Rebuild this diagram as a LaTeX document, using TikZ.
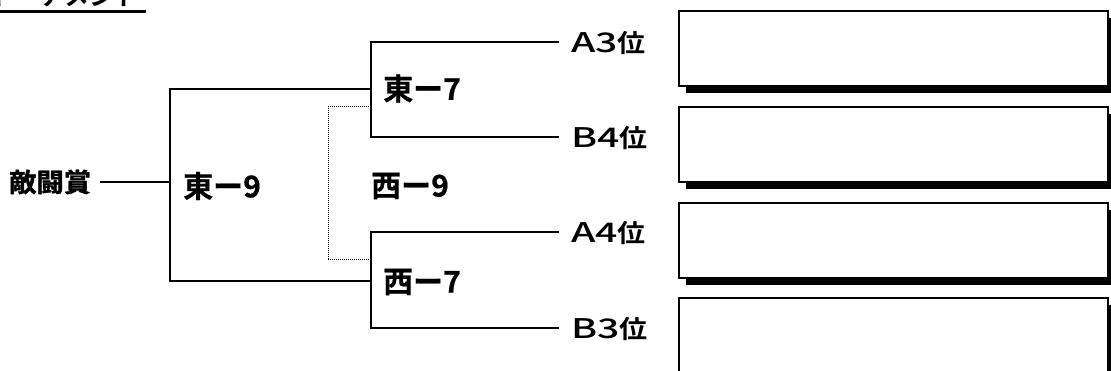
\documentclass[tikz,border=0pt]{standalone}
\usepackage{fontspec}
\newfontfamily\jpA{Noto Sans CJK JP Bold}[FakeBold=0.6]
\newfontfamily\jpT{Noto Sans CJK JP Bold}
\newfontfamily\jpW{Noto Sans CJK JP Bold}[FakeStretch=1.12]
\newfontfamily\latW{Noto Sans CJK JP Medium}[FakeStretch=1.45]
\newfontfamily\jpR{Noto Sans CJK JP Bold}[FakeStretch=1.05,FakeBold=1.5]
\newcommand{\teamtxt}[1]{{\latW\fontsize{27}{27}\selectfont #1}{\jpW\fontsize{25}{25}\selectfont 位}}
\begin{document}
\begin{tikzpicture}[x=1pt,y=-1pt,
  brk/.style={line width=2pt,line cap=rect},
  dot/.style={line width=1pt,densely dotted},
  team/.style={anchor=west,inner sep=0pt},
  lab/.style={anchor=west,inner sep=0pt,font=\jpA\fontsize{30}{30}\selectfont},
  rootlab/.style={anchor=west,inner sep=0pt,font=\jpR\fontsize{26}{26}\selectfont},
  box/.style={draw,line width=2pt,fill=white},
  shadow/.style={fill=black}]
\useasboundingbox (0,0) rectangle (1111,371);
\clip (0,0) rectangle (1111,371);
% title (cut off at top)
\begin{scope}
\clip (0,0) rectangle (200,9);
\node[anchor=base east,inner sep=0pt,font=\jpT\fontsize{25}{25}\selectfont] (title) at (140,6) {トーナメント};
\end{scope}
\coordinate (ul1) at (0,11.5);
\coordinate (ul2) at (146,11.5);
\draw[line width=3pt] (ul1) -- (ul2);

% root
\node[rootlab] (root) at (9,182) {敵闘賞};
\coordinate (j0) at (170,182);
\coordinate (j0t) at (170,89);
\coordinate (j0b) at (170,281);
\draw[brk] ([xshift=10pt]root.east) -- (j0);
\draw[brk] (j0t) -- (j0b);
\node[lab] (e9) at (183,186) {東ー9};
\node[lab] (w9) at (371,186) {西ー9};

% east-7 bracket
\coordinate (e7) at (371,89);
\coordinate (e7t) at (371,42);
\coordinate (e7b) at (371,137);
\draw[brk] (j0t) -- (e7);
\draw[brk] (e7t) -- (e7b);
\node[lab] (e7l) at (383,88.5) {東ー7};

% west-7 bracket
\coordinate (w7) at (371,281);
\coordinate (w7t) at (371,232);
\coordinate (w7b) at (371,328);
\draw[brk] (j0b) -- (w7);
\draw[brk] (w7t) -- (w7b);
\node[lab] (w7l) at (383,282) {西ー7};

% dotted bracket
\coordinate (dt) at (328,107);
\coordinate (db) at (328,260);
\coordinate (dte) at (371,107);
\coordinate (dbe) at (371,260);
\draw[dot] (dte) -- (dt) -- (db) -- (dbe);

% teams
\node[team] (a3) at (571,43) {\teamtxt{A3}};
\node[team] (b4) at (571,138) {\teamtxt{B4}};
\node[team] (a4) at (571,233) {\teamtxt{A4}};
\node[team] (b3) at (571,329) {\teamtxt{B3}};
\draw[brk] (e7t) -- ([xshift=-13pt]a3.west |- e7t);
\draw[brk] (e7b) -- ([xshift=-13pt]b4.west |- e7b);
\draw[brk] (w7t) -- ([xshift=-13pt]a4.west |- w7t);
\draw[brk] (w7b) -- ([xshift=-13pt]b3.west |- w7b);

% answer boxes
\foreach \t/\n in {10/bx1,106/bx2,202/bx3,297/bx4}{
  \fill[shadow] (686,\t+8) rectangle (1115,\t+83);
  \node[box,anchor=north west,minimum width=429pt,minimum height=75pt,inner sep=0pt] (\n) at (678,\t) {};
}
\end{tikzpicture}
\end{document}
